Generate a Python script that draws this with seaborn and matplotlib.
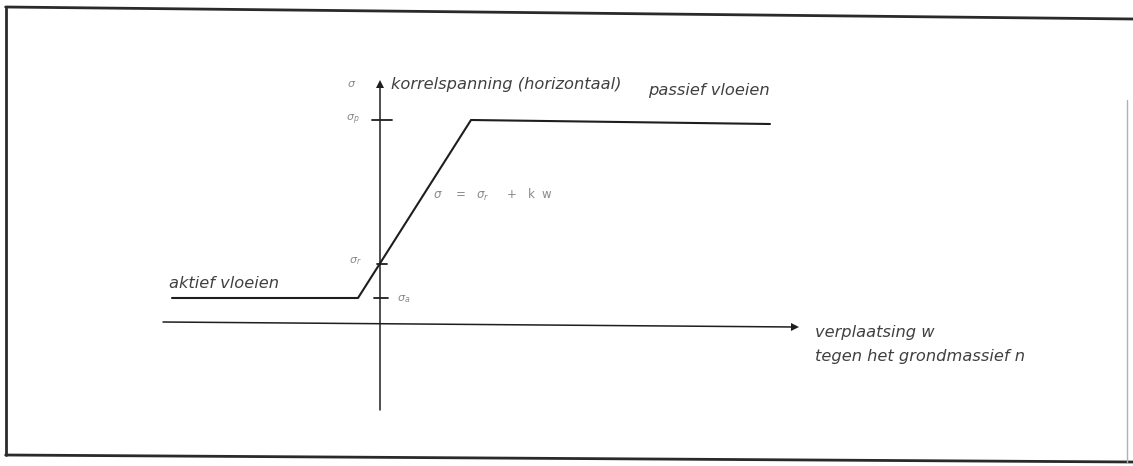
"""
Korrelspanning (horizontaal) versus verplaatsing w tegen het grondmassief:
aktief vloeien -> lineair verloop -> passief vloeien.
"""

import matplotlib
matplotlib.use("Agg")
import matplotlib.pyplot as plt
import pandas as pd
import seaborn as sns
from matplotlib.lines import Line2D

# data (w in relatieve eenheden, sigma in relatieve eenheden)
w_curve = [-2.08, -0.22, 0.91, 3.90]
sigma_curve = [0.24, 0.24, 2.02, 1.98]

sigma_ticks = [2.02, 0.58, 0.24]
sigma_tick_labels = [r"$\sigma_p$", r"$\sigma_r$", r"$\sigma_a$"]

x_axis_w = [-2.17, 4.15]
x_axis_sigma = [0.0, -0.05]
y_axis_sigma = [-0.88, 2.36]

TEXT = "#404040"
FAINT = "#8a8a8a"
LINE = "#1e1e1e"

W_PX, H_PX, DPI = 1133, 466, 100


def main():
    sns.set_theme(style="white")
    plt.rcParams["font.family"] = ["DejaVu Sans"]

    fig = plt.figure(figsize=(W_PX / DPI, H_PX / DPI), dpi=DPI)
    ax = fig.add_axes([0, 0, 1, 1])
    ax.set_xlim(-3.80, 7.53)
    ax.set_ylim(-1.44, 3.22)
    ax.axis("off")

    # frame (scan is slightly skewed)
    frame = dict(transform=fig.transFigure, color="#2a2a2a", lw=2.0)
    fig.add_artist(Line2D([0.005, 0.005], [1 - 8 / H_PX, 1 - 455 / H_PX], **frame))
    fig.add_artist(Line2D([0.005, 1.0], [1 - 7 / H_PX, 1 - 19 / H_PX], **frame))
    fig.add_artist(Line2D([0.005, 1.0], [1 - 455 / H_PX, 1 - 462 / H_PX], **frame))
    fig.add_artist(Line2D([1127 / W_PX, 1127 / W_PX], [1 - 100 / H_PX, 1 - 462 / H_PX],
                          transform=fig.transFigure, color="#b0b0b0", lw=1.0))

    # axes of the diagram
    ax.plot(x_axis_w, x_axis_sigma, color=LINE, lw=1.1)
    ax.plot([0, 0], y_axis_sigma, color=LINE, lw=1.1)
    ax.plot([x_axis_w[1]], [x_axis_sigma[1]], marker=">", color=LINE, ms=6, mew=0)
    ax.plot([0], [y_axis_sigma[1] + 0.02], marker="^", color=LINE, ms=6, mew=0)

    # stress-displacement curve
    df = pd.DataFrame({"w": w_curve, "sigma": sigma_curve})
    sns.lineplot(data=df, x="w", y="sigma", sort=False, color=LINE, lw=1.5,
                 ax=ax, legend=False)

    # ticks on the sigma axis
    ax.plot([-0.08, 0.12], [sigma_ticks[0]] * 2, color=LINE, lw=1.3)
    ax.plot([-0.03, 0.07], [sigma_ticks[1]] * 2, color=LINE, lw=1.3)
    ax.plot([-0.06, 0.08], [sigma_ticks[2]] * 2, color=LINE, lw=1.3)

    ax.text(-0.27, sigma_ticks[0], sigma_tick_labels[0], color=FAINT, fontsize=8,
            ha="center", va="center")
    ax.text(-0.25, sigma_ticks[1] + 0.03, sigma_tick_labels[1], color=FAINT,
            fontsize=8, ha="center", va="center")
    ax.text(0.24, sigma_ticks[2] - 0.01, sigma_tick_labels[2], color=FAINT,
            fontsize=8, ha="center", va="center")
    ax.text(-0.28, 2.38, r"$\sigma$", color=FAINT, fontsize=8, ha="center",
            va="center")

    # labels
    size = 11.7
    ax.text(0.11, 2.37, "korrelspanning (horizontaal)", color=TEXT, fontsize=size,
            style="italic", ha="left", va="center")
    ax.text(2.68, 2.32, "passief vloeien", color=TEXT, fontsize=size,
            style="italic", ha="left", va="center")
    ax.text(-2.11, 0.38, "aktief vloeien", color=TEXT, fontsize=size,
            style="italic", ha="left", va="center")
    ax.text(0.53, 1.27, r"$\sigma$    =   $\sigma_r$     +   k  w", color=FAINT,
            fontsize=8.5, ha="left", va="center")
    ax.text(4.35, -0.11, "verplaatsing w", color=TEXT, fontsize=size,
            style="italic", ha="left", va="center")
    ax.text(4.35, -0.35, "tegen het grondmassief n", color=TEXT, fontsize=size,
            style="italic", ha="left", va="center")

    fig.savefig("out.png", dpi=DPI, facecolor="white")
    plt.close(fig)


if __name__ == "__main__":
    main()
